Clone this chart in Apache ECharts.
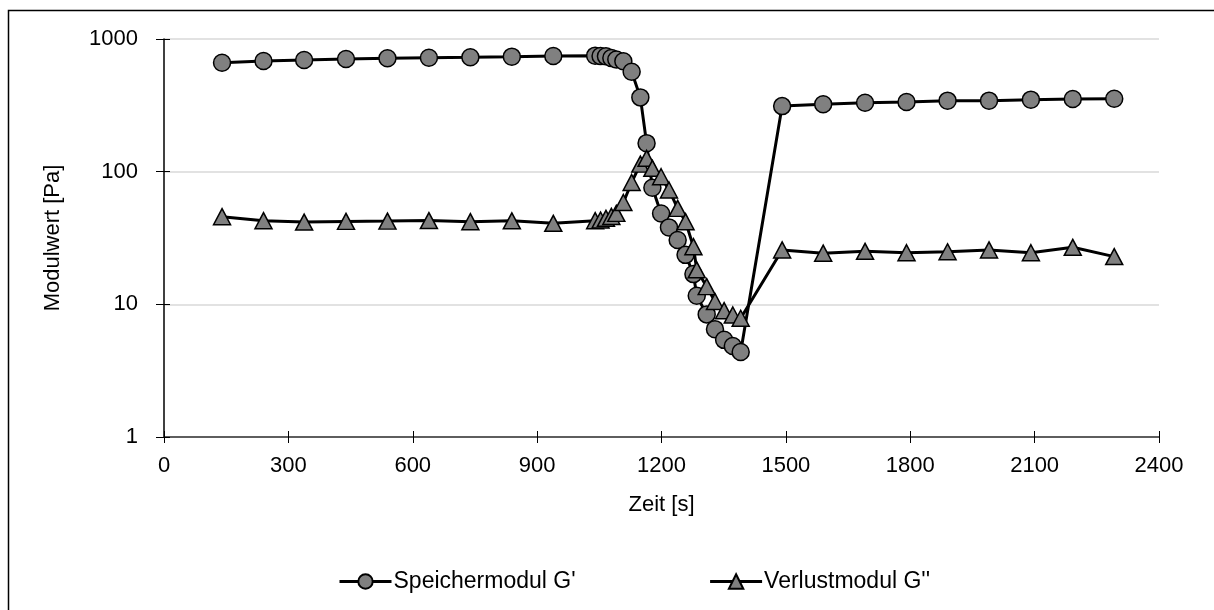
<!DOCTYPE html>
<html>
<head>
<meta charset="utf-8">
<script src="https://cdn.jsdelivr.net/npm/echarts@6/dist/echarts.min.js"></script>
<style>html,body{margin:0;padding:0;background:#fff}#c{width:1214px;height:610px}</style>
</head>
<body>
<div id="c"></div>
<script>
// Time points [s]
const timeS = [140, 240, 338, 439, 539, 639, 739, 839, 939,
  1040, 1053, 1066, 1079, 1091, 1108, 1128, 1149, 1164, 1178, 1199, 1218, 1239, 1258, 1277, 1285, 1309, 1329, 1351, 1372, 1391,
  1491, 1590, 1691, 1791, 1890, 1990, 2091, 2192, 2292];
// Speichermodul G' [Pa]
const gStorage = [663, 682, 695, 707, 715, 723, 728, 736, 745,
  749, 745, 740, 720, 700, 680, 567, 363, 164, 75.6, 48.4, 38, 30.5, 23.6, 16.9, 11.6, 8.4, 6.5, 5.4, 4.85, 4.37,
  312, 322, 331, 335, 343, 343, 349, 353, 355];
// Verlustmodul G'' [Pa]
const gLoss = [45.8, 42.7, 41.7, 42.2, 42.4, 42.8, 42.0, 42.6, 40.8,
  42.7, 43.2, 44.5, 46, 48.5, 58.6, 82.9, 114, 126, 106, 91.6, 72.8, 52.9, 42, 27.2, 18.2, 13.6, 10.5, 8.96, 8.31, 7.85,
  25.7, 24.3, 25.1, 24.5, 24.9, 25.7, 24.5, 26.9, 22.9];
const seriesNames = ["Speichermodul G'", "Verlustmodul G''"];
const xTicks = {min: 0, max: 2400, interval: 300};
const yTicks = {min: 1, max: 1000};

const font = 'Liberation Sans, Arial, sans-serif';
const fs = 22;
const pair = (xs, ys) => xs.map((x, i) => [x, ys[i]]);
const plain = v => String(v);

const chart = echarts.init(document.getElementById('c'), null, {renderer: 'canvas'});
const baseX = {type: 'value', min: xTicks.min, max: xTicks.max, interval: xTicks.interval, gridIndex: 0};
const baseY = {type: 'log', logBase: 10, min: yTicks.min, max: yTicks.max, gridIndex: 0};
chart.setOption({
  animation: false,
  backgroundColor: '#fff',
  textStyle: {fontFamily: font},
  graphic: [{type: 'rect', shape: {x: 8.5, y: 10.5, width: 1220, height: 620}, style: {fill: 'none', stroke: '#000', lineWidth: 1.5}, z: -1}],
  grid: {left: 164, right: 55, top: 39, bottom: 173, containLabel: false},
  xAxis: [
    Object.assign({}, baseX, {
      position: 'bottom',
      name: 'Zeit [s]', nameLocation: 'middle', nameGap: 57,
      nameTextStyle: {fontSize: fs, color: '#000', fontFamily: font},
      axisLine: {show: true, lineStyle: {color: '#333', width: 1.5}},
      axisTick: {show: true, inside: false, length: 6, lineStyle: {color: '#000'}},
      axisLabel: {fontSize: fs, color: '#000', margin: 18, fontFamily: font, formatter: plain},
      splitLine: {show: false}
    }),
    Object.assign({}, baseX, {
      position: 'bottom',
      axisLine: {show: false},
      axisTick: {show: true, inside: true, length: 6, lineStyle: {color: '#000'}},
      axisLabel: {show: false}, splitLine: {show: false}
    })
  ],
  yAxis: [
    Object.assign({}, baseY, {
      position: 'left',
      name: 'Modulwert [Pa]', nameLocation: 'middle', nameGap: 100, nameRotate: 90,
      nameTextStyle: {fontSize: fs, color: '#000', fontFamily: font},
      axisLine: {show: true, lineStyle: {color: '#000', width: 1.5}},
      axisTick: {show: true, inside: false, length: 8, lineStyle: {color: '#000'}},
      axisLabel: {fontSize: fs, color: '#000', margin: 26, fontFamily: font, formatter: plain},
      minorTick: {show: false},
      splitLine: {show: true, lineStyle: {color: '#d9d9d9', width: 1.5}}
    }),
    Object.assign({}, baseY, {
      position: 'left',
      axisLine: {show: false},
      axisTick: {show: true, inside: true, length: 6, lineStyle: {color: '#000'}},
      axisLabel: {show: false}, splitLine: {show: false}
    })
  ],
  legend: {
    top: 565, left: 333,
    itemWidth: 52, itemHeight: 18, itemGap: 133,
    lineStyle: {width: 3, color: '#000'},
    textStyle: {fontSize: 23, color: '#000', fontFamily: font, padding: [0, 0, 0, -3]},
    data: seriesNames
  },
  series: [
    {
      name: seriesNames[0], type: 'line', data: pair(timeS, gStorage),
      symbol: 'circle', symbolSize: 17,
      lineStyle: {color: '#000', width: 3},
      itemStyle: {color: '#808080', borderColor: '#000', borderWidth: 1.5},
      z: 3
    },
    {
      name: seriesNames[1], type: 'line', data: pair(timeS, gLoss),
      symbol: 'triangle', symbolSize: [17, 16],
      lineStyle: {color: '#000', width: 3},
      itemStyle: {color: '#808080', borderColor: '#000', borderWidth: 1.5},
      z: 4
    }
  ]
});
</script>
</body>
</html>
